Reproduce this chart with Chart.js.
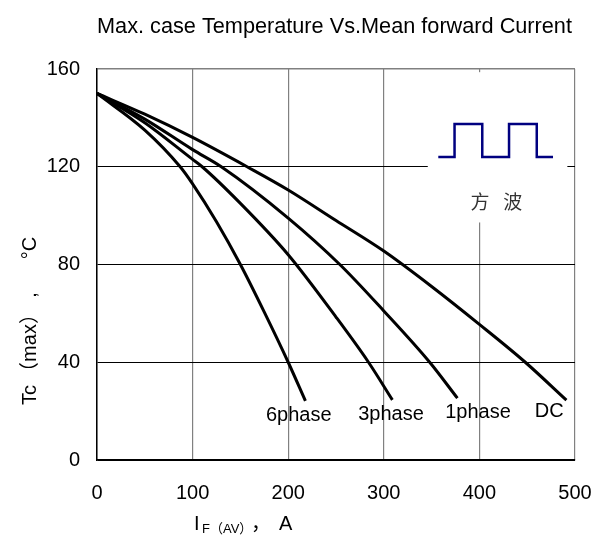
<!DOCTYPE html>
<html>
<head>
<meta charset="utf-8">
<script src="https://cdn.jsdelivr.net/npm/chart.js@4.4.1/dist/chart.umd.min.js"></script>
<style>
  html, body { margin: 0; padding: 0; background: #fff; }
  #wrap { position: relative; width: 603px; height: 538px; }
</style>
</head>
<body>
<div id="wrap"><canvas id="chart"></canvas></div>
<script>
// axis ticks
const currentTicks = [0, 100, 200, 300, 400, 500];
const tempTicks = [0, 40, 80, 120, 160];

// curves: I_F(AV) in A, Tc(max) in °C
const dcCurrent = [0, 50, 100, 157, 200, 250, 300, 350, 400, 448, 491];
const dcTemp = [150, 141.5, 132, 120, 110.5, 98, 85.5, 71, 55.5, 40, 24.5];

const phase1Current = [0, 50, 100, 130, 200, 254, 300, 348, 377];
const phase1Temp = [150, 139.5, 127, 120, 99, 80, 61, 40, 25.3];

const phase3Current = [0, 50, 100, 110, 150, 200, 250, 284, 309];
const phase3Temp = [150, 138, 123, 120, 105, 84, 58.5, 40, 24.6];

const phase6Current = [0, 50, 87, 100, 125, 150, 175, 200, 218];
const phase6Temp = [150, 135, 120, 113, 97.5, 80, 60.5, 40, 24.2];

// square wave symbol in the inset (data units)
const waveCurrent = [357, 374, 374, 403, 403, 431, 431, 460, 460, 477];
const waveTemp = [124, 124, 137.5, 137.5, 124, 124, 137.5, 137.5, 124, 124];

// curve names and where their baselines sit (data units)
const curveNames = ['6phase', '3phase', '1phase', 'DC'];
const nameCurrent = [211, 307.5, 398.5, 473];
const nameTemp = [15.8, 16.4, 17.2, 17.4];

// white inset box: [I from, I to, T from, T to]
const insetBox = [346, 492, 97.2, 158.7];

const toPoints = (xs, ys) => xs.map((v, i) => ({ x: v, y: ys[i] }));

const curve = (label, xs, ys) => ({
  label: label,
  data: toPoints(xs, ys),
  borderColor: '#000',
  borderWidth: 3,
  pointRadius: 0,
  tension: 0.4,
  cubicInterpolationMode: 'monotone',
  fill: false,
});

const SANS = '"Liberation Sans", Arial, "Noto Sans CJK SC", sans-serif';

const overlay = {
  id: 'overlay',
  beforeDatasetsDraw(chart) {
    const { ctx, scales: { x, y } } = chart;
    const l = x.getPixelForValue(insetBox[0]);
    const r = x.getPixelForValue(insetBox[1]);
    const t = y.getPixelForValue(insetBox[3]);
    const b = y.getPixelForValue(insetBox[2]);
    ctx.save();
    ctx.fillStyle = '#fff';
    ctx.fillRect(l, t, r - l, b - t);
    ctx.restore();
  },
  afterDraw(chart) {
    const { ctx, chartArea, scales: { x, y } } = chart;
    ctx.save();
    ctx.fillStyle = '#000';
    ctx.textAlign = 'center';
    ctx.textBaseline = 'alphabetic';

    // title
    ctx.font = '21.7px ' + SANS;
    ctx.fillText('Max. case Temperature Vs.Mean forward Current', (chartArea.left + chartArea.right) / 2 - 1.5, 33);

    // curve names
    ctx.font = '20px ' + SANS;
    curveNames.forEach((n, i) => {
      ctx.fillText(n, x.getPixelForValue(nameCurrent[i]), y.getPixelForValue(nameTemp[i]));
    });

    // inset caption
    ctx.fillStyle = '#333';
    ctx.textBaseline = 'middle';
    ctx.font = '19px "Noto Sans CJK SC", sans-serif';
    ctx.fillText('方', x.getPixelForValue(400.5), y.getPixelForValue(105.8));
    ctx.fillText('波', x.getPixelForValue(435), y.getPixelForValue(105.8));

    // x axis title: I_F(AV), A
    ctx.fillStyle = '#000';
    ctx.textAlign = 'left';
    ctx.textBaseline = 'alphabetic';
    ctx.font = '20px ' + SANS;
    ctx.fillText('I', 194, 530);
    ctx.font = '13px ' + SANS;
    ctx.fillText('F（AV）', 202, 533);
    ctx.font = '20px ' + SANS;
    ctx.fillText('，', 251, 530);
    ctx.fillText('A', 279, 530);

    // y axis title, pieces placed along the rotated line
    ctx.translate(30, 0);
    ctx.rotate(-Math.PI / 2);
    ctx.textAlign = 'center';
    ctx.textBaseline = 'middle';
    ctx.font = '20px ' + SANS;
    ctx.fillText('Tc', -395, 0);
    ctx.fillText('（max）', -343, 0);
    ctx.fillText(',', -295, 0);
    ctx.fillText('°C', -248, 0);
    ctx.restore();
  },
};

new Chart(document.getElementById('chart'), {
  type: 'line',
  data: {
    datasets: [
      curve('DC', dcCurrent, dcTemp),
      curve('1phase', phase1Current, phase1Temp),
      curve('3phase', phase3Current, phase3Temp),
      curve('6phase', phase6Current, phase6Temp),
      {
        label: 'wave',
        data: toPoints(waveCurrent, waveTemp),
        borderColor: '#000080',
        borderWidth: 2.5,
        pointRadius: 0,
        tension: 0,
        fill: false,
      },
    ],
  },
  options: {
    responsive: true,
    maintainAspectRatio: false,
    animation: false,
    layout: { padding: { top: 69, right: 28, left: 0, bottom: 0 } },
    plugins: {
      legend: { display: false },
      tooltip: { enabled: false },
    },
    scales: {
      x: {
        type: 'linear',
        min: 0,
        max: 500,
        afterBuildTicks: (s) => { s.ticks = currentTicks.map((v) => ({ value: v })); },
        afterFit: (s) => { s.height = 78; s.paddingLeft = 0; s.paddingRight = 0; },
        grid: {
          color: '#808080',
          lineWidth: 1.2,
          drawTicks: false,
        },
        border: { color: '#000', width: 1.5 },
        ticks: {
          color: '#000',
          padding: 21,
          font: { family: SANS, size: 20 },
          maxRotation: 0,
        },
      },
      y: {
        type: 'linear',
        min: 0,
        max: 160,
        afterBuildTicks: (s) => { s.ticks = tempTicks.map((v) => ({ value: v })); },
        afterFit: (s) => { s.width = 97; s.paddingTop = 0; s.paddingBottom = 0; },
        grid: {
          color: (c) => (c.tick && c.tick.value === 160 ? '#808080' : '#000'),
          lineWidth: (c) => (c.tick && c.tick.value === 160 ? 1.5 : 1),
          drawTicks: false,
        },
        border: { color: '#000', width: 1.5 },
        ticks: {
          color: '#000',
          padding: 17,
          font: { family: SANS, size: 20 },
        },
      },
    },
  },
  plugins: [overlay],
});
</script>
</body>
</html>
